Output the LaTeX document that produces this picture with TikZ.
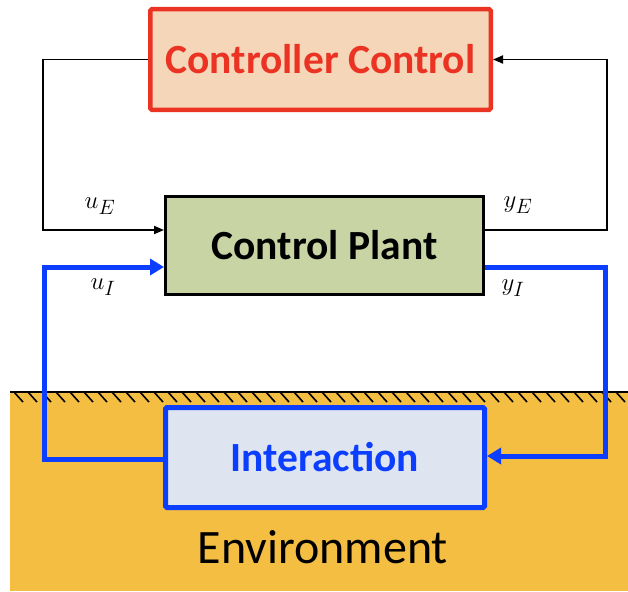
\documentclass[tikz,border=0pt]{standalone}
\usepackage{fontspec}
\setmainfont{Carlito}
\usetikzlibrary{arrows.meta}

\definecolor{envorange}{HTML}{F4BE42}
\definecolor{ctrlfill}{HTML}{F5D6B8}
\definecolor{ctrlred}{HTML}{EA3323}
\definecolor{plantfill}{HTML}{C8D4A3}
\definecolor{interfill}{HTML}{DEE4F0}
\definecolor{loopblue}{HTML}{0B3EFF}

\tikzset{
  blockbox/.style={rectangle, inner sep=0pt, align=center,
    font=\fontsize{41.5}{48}\selectfont\bfseries},
  ctrlbox/.style={blockbox, draw=ctrlred, fill=ctrlfill, text=ctrlred,
    line width=4.5pt, rounded corners=1.5pt},
  plantbox/.style={blockbox, draw=black, fill=plantfill, line width=3pt},
  interbox/.style={blockbox, draw=loopblue, fill=interfill, text=loopblue,
    line width=5pt, rounded corners=1.5pt},
  sigline/.style={draw=black, line width=1.8pt,
    -{Triangle[length=10pt,width=8pt]}},
  blueline/.style={draw=loopblue, line width=5pt,
    -{Triangle[length=14pt,width=16pt]}},
  siglabel/.style={inner sep=0pt, font=\fontsize{28}{32}\selectfont},
}

\begin{document}
\begin{tikzpicture}[x=1pt,y=-1pt]
  \useasboundingbox (0,0) rectangle (628,591);

  % ground / environment
  \fill[envorange] (10,391) rectangle (628,591);
  \draw[line width=2pt] (10,392) -- (628,392);
  \foreach \hx in {14,28,...,620}
    \draw[line width=1.6pt] (\hx,392) -- (\hx+9,402);
  \node[font=\fontsize{48}{54}\selectfont, inner sep=0pt] (env) at (323,547) {Environment};

  % blocks
  \node[ctrlbox, minimum width=340.5pt, minimum height=100.5pt] (ctrl)
    at (320.5,59.5) {Controller Control};
  \node[plantbox, minimum width=318pt, minimum height=98pt] (plant)
    at (324.5,245.5) {Control Plant};
  \node[interbox, minimum width=319pt, minimum height=100pt] (inter)
    at (325,457.5) {Interaction};

  % loop corner coordinates
  \coordinate (lx) at (43,0);
  \coordinate (rx) at (607,0);
  \coordinate (blx) at (44,0);
  \coordinate (brx) at (605,0);

  % external loop (controller)
  \draw[sigline] (ctrl.west) -- (ctrl.west -| lx)
    |- ([yshift=15.5pt]plant.west);
  \draw[sigline] ([yshift=15.5pt]plant.east) -- ([yshift=15.5pt]plant.east -| rx)
    |- (ctrl.east);

  % interaction loop
  \draw[blueline] ([yshift=-1.5pt]inter.west) -- ([yshift=-1.5pt]inter.west -| blx)
    |- ([yshift=-21.5pt]plant.west);
  \draw[blueline] ([yshift=-21.5pt]plant.east) -- ([yshift=-21.5pt]plant.east -| brx)
    |- ([yshift=1.5pt]inter.east);

  % signal labels
  \node[siglabel] (uE) at (100,206) {$u_E$};
  \node[siglabel] (uI) at (103,287) {$u_I$};
  \node[siglabel] (yE) at (518,205) {$y_E$};
  \node[siglabel] (yI) at (513,288) {$y_I$};
\end{tikzpicture}
\end{document}
